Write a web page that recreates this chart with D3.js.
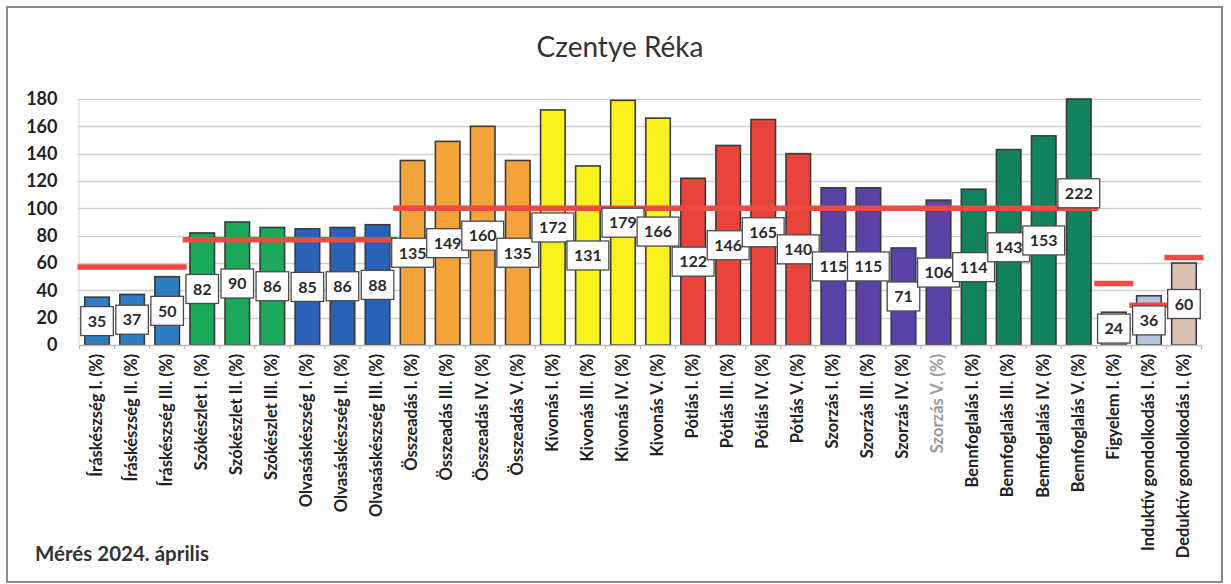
<!DOCTYPE html>
<html>
<head>
<meta charset="utf-8">
<script src="https://cdn.jsdelivr.net/npm/d3@7"></script>
<style>
  body { margin: 0; background: #fff; }
  text { font-family: Lato, "Open Sans", sans-serif; }
</style>
</head>
<body>
<svg id="chart" width="1231" height="584"></svg>
<script>
// ---- data ----
const chartTitle = "Czentye Réka";
const footerText = "Mérés 2024. április";
const categories = [
  "Íráskészség I. (%)", "Íráskészség II. (%)", "Íráskészség III. (%)",
  "Szókészlet I. (%)", "Szókészlet II. (%)", "Szókészlet III. (%)",
  "Olvasáskészség I. (%)", "Olvasáskészség II. (%)", "Olvasáskészség III. (%)",
  "Összeadás I. (%)", "Összeadás III. (%)", "Összeadás IV. (%)", "Összeadás V. (%)",
  "Kivonás I. (%)", "Kivonás III. (%)", "Kivonás IV. (%)", "Kivonás V. (%)",
  "Pótlás I. (%)", "Pótlás III. (%)", "Pótlás IV. (%)", "Pótlás V. (%)",
  "Szorzás I. (%)", "Szorzás III. (%)", "Szorzás IV. (%)", "Szorzás V. (%)",
  "Bennfoglalás I. (%)", "Bennfoglalás III. (%)", "Bennfoglalás IV. (%)", "Bennfoglalás V. (%)",
  "Figyelem I. (%)", "Induktív gondolkodás I. (%)", "Deduktív gondolkodás I. (%)"
];
const values = [35, 37, 50, 82, 90, 86, 85, 86, 88, 135, 149, 160, 135, 172, 131, 179, 166,
                122, 146, 165, 140, 115, 115, 71, 106, 114, 143, 153, 222, 24, 36, 60];
const groupKeys = ["Íráskészség", "Szókészlet", "Olvasáskészség", "Összeadás", "Kivonás", "Pótlás",
                   "Szorzás", "Bennfoglalás", "Figyelem", "Induktív", "Deduktív"];
const groupColors = ["#2f7ec4", "#1aa85a", "#2a62b8", "#f4a23a", "#f7f21c", "#e8443c",
                     "#5a43a6", "#13825e", "#f0b488", "#b4c6dc", "#dcc2b4"];
// reference (average) lines: first category, last category, value
const refFirst = ["Íráskészség I. (%)", "Szókészlet I. (%)", "Összeadás I. (%)", "Figyelem I. (%)", "Induktív gondolkodás I. (%)", "Deduktív gondolkodás I. (%)"];
const refLast  = ["Íráskészség III. (%)", "Olvasáskészség III. (%)", "Bennfoglalás V. (%)", "Figyelem I. (%)", "Induktív gondolkodás I. (%)", "Deduktív gondolkodás I. (%)"];
const refValues = [57, 77, 100, 45, 29, 64];
const yTicks = [0, 20, 40, 60, 80, 100, 120, 140, 160, 180];

// ---- layout ----
const W = 1231, H = 584;
const plot = { left: 79.5, right: 1201.5, top: 99, bottom: 345 };
const svg = d3.select("#chart");

const data = categories.map((c, i) => ({ cat: c, value: values[i], group: c.split(" ")[0] }));

const x = d3.scaleBand().domain(categories).range([plot.left, plot.right]).paddingInner(0.3).paddingOuter(0.15);
const y = d3.scaleLinear().domain([0, 180]).range([plot.bottom, plot.top]).clamp(true);
const color = d3.scaleOrdinal(groupKeys, groupColors);
const step = x.step();

// outer border
svg.append("rect").attr("x", 7).attr("y", 7).attr("width", 1215).attr("height", 575)
  .attr("fill", "#fff").attr("stroke", "#8a8a8a").attr("stroke-width", 2);

// title
svg.append("text").attr("x", 620).attr("y", 57).attr("text-anchor", "middle")
  .attr("font-size", 28).attr("fill", "#333").text(chartTitle);

// footer
svg.append("text").attr("x", 35).attr("y", 561)
  .attr("font-size", 20.5).attr("font-weight", 700).attr("fill", "#333").text(footerText);

// gridlines
svg.append("g").selectAll("line").data(yTicks.slice(1)).join("line")
  .attr("x1", plot.left - 2).attr("x2", plot.right)
  .attr("y1", d => Math.round(y(d)) + 0.5).attr("y2", d => Math.round(y(d)) + 0.5)
  .attr("stroke", "#cfcfcf").attr("stroke-width", 1.3);

// y axis
const yAxis = svg.append("g").attr("transform", `translate(${plot.left - 1},0)`)
  .call(d3.axisLeft(y).tickValues(yTicks).tickSize(0).tickPadding(21));
yAxis.select(".domain").attr("stroke", "#d6d6d6");
yAxis.selectAll("text").attr("font-size", 18).attr("font-weight", 700).attr("fill", "#222")
  .style("font-family", "Lato, 'Open Sans', sans-serif");

// bars
svg.append("g").selectAll("rect").data(data).join("rect")
  .attr("x", d => x(d.cat)).attr("width", x.bandwidth())
  .attr("y", d => y(d.value)).attr("height", d => y(0) - y(d.value))
  .attr("fill", d => color(d.group)).attr("stroke", "#3a3a3a").attr("stroke-width", 1.6);

// x axis
const xAxis = svg.append("g").attr("transform", `translate(0,${plot.bottom})`)
  .call(d3.axisBottom(x).tickSize(0).tickPadding(0));
xAxis.select(".domain").attr("stroke", "#bdbdbd").attr("stroke-width", 1.5);
xAxis.selectAll(".tick text")
  .attr("transform", "rotate(-90)")
  .attr("text-anchor", "end")
  .attr("x", -9).attr("y", -1).attr("dy", "0.35em")
  .attr("font-size", 16.5).attr("font-weight", 700)
  .attr("fill", d => d === "Szorzás V. (%)" ? "#9a9a9a" : "#222")
  .style("font-family", "Lato, 'Open Sans', sans-serif");
// boundary ticks
svg.append("g").selectAll("line").data(d3.range(categories.length + 1)).join("line")
  .attr("x1", i => plot.left + i * step).attr("x2", i => plot.left + i * step)
  .attr("y1", plot.bottom).attr("y2", plot.bottom + 4)
  .attr("stroke", "#bdbdbd").attr("stroke-width", 1.2);

// reference lines
const refs = refValues.map((v, i) => ({ a: refFirst[i], b: refLast[i], v }));
svg.append("g").selectAll("line").data(refs).join("line")
  .attr("x1", d => x(d.a) - step * (x.paddingInner() / 2) - 2)
  .attr("x2", d => x(d.b) + x.bandwidth() + step * (x.paddingInner() / 2) + 2)
  .attr("y1", d => y(d.v)).attr("y2", d => y(d.v))
  .attr("stroke", "#ee4a44").attr("stroke-width", 5.5);

// data labels (centered in bar)
const lab = svg.append("g").selectAll("g").data(data).join("g")
  .attr("transform", d => `translate(${x(d.cat) + x.bandwidth() / 2},${y(d.value / 2)})`);
lab.each(function (d) {
  const g = d3.select(this);
  const t = g.append("text").attr("text-anchor", "middle").attr("dy", "0.36em")
    .attr("font-size", 16).attr("font-weight", 700).attr("fill", "#2a2a2a").text(d.value);
  const w = t.node().getComputedTextLength() + 14;
  g.insert("rect", "text").attr("x", -w / 2).attr("y", -14.5).attr("width", w).attr("height", 29)
    .attr("fill", "#fff").attr("stroke", "#4a4a4a").attr("stroke-width", 1.3);
});
</script>
</body>
</html>
